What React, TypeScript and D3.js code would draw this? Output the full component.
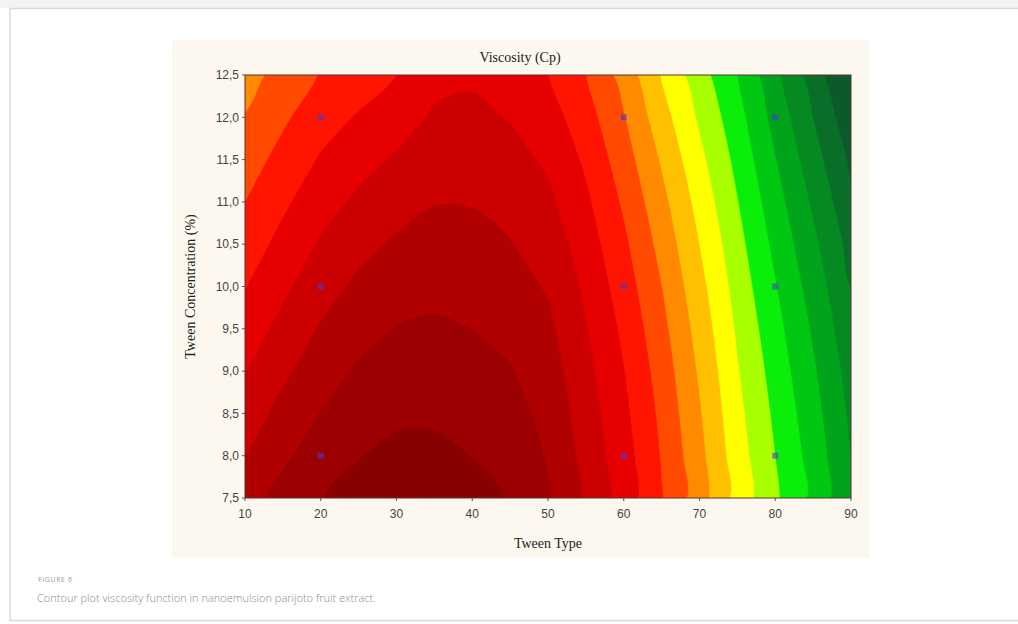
import React from "react";
import * as d3 from "d3";

// Grid nodes (Tween Type along x, Tween Concentration along y)
const tweenType = [10, 15, 20, 25, 30, 35, 40, 45, 50, 55, 60, 65, 70, 75, 80, 85, 90];
const tweenConc = [7.5, 8.0, 8.5, 9.0, 9.5, 10.0, 10.5, 11.0, 11.5, 12.0, 12.5];

// Surface values (contour-level units), one row per concentration
const row75 = [18.5, 19.35, 19.95, 20.35, 20.55, 20.55, 20.3, 19.95, 19.1, 17.8, 16.55, 15.05, 13.45, 11.6, 10.15, 8.75, 7.1];
const row80 = [17.97, 18.83, 19.5, 19.96, 20.21, 20.21, 19.98, 19.66, 18.92, 17.66, 16.41, 14.92, 13.28, 11.45, 9.99, 8.58, 6.97];
const row85 = [17.46, 18.32, 19.03, 19.56, 19.85, 19.86, 19.66, 19.37, 18.7, 17.5, 16.23, 14.76, 13.08, 11.27, 9.8, 8.37, 6.79];
const row90 = [16.95, 17.81, 18.56, 19.13, 19.46, 19.5, 19.33, 19.06, 18.46, 17.3, 16.02, 14.55, 12.85, 11.07, 9.58, 8.13, 6.57];
const row95 = [16.44, 17.3, 18.09, 18.67, 19.04, 19.13, 18.99, 18.73, 18.2, 17.06, 15.78, 14.29, 12.59, 10.85, 9.33, 7.86, 6.31];
const row100 = [15.95, 16.8, 17.6, 18.2, 18.6, 18.75, 18.65, 18.4, 17.9, 16.8, 15.5, 14.0, 12.3, 10.6, 9.05, 7.55, 6.0];
const row105 = [15.46, 16.3, 17.11, 17.7, 18.13, 18.36, 18.3, 18.05, 17.58, 16.5, 15.19, 13.66, 11.98, 10.33, 8.74, 7.21, 5.65];
const row110 = [14.99, 15.81, 16.6, 17.19, 17.64, 17.96, 17.95, 17.7, 17.22, 16.18, 14.84, 13.29, 11.63, 10.03, 8.4, 6.83, 5.25];
const row115 = [14.52, 15.32, 16.09, 16.65, 17.12, 17.55, 17.59, 17.33, 16.84, 15.82, 14.46, 12.87, 11.25, 9.71, 8.03, 6.42, 4.81];
const row120 = [14.05, 14.83, 15.58, 16.08, 16.57, 17.13, 17.22, 16.94, 16.44, 15.42, 14.05, 12.4, 10.84, 9.37, 7.63, 5.98, 4.33];
const row125 = [13.6, 14.35, 15.05, 15.5, 16.0, 16.7, 16.85, 16.55, 16.0, 15.0, 13.6, 11.9, 10.4, 9.0, 7.2, 5.5, 3.8];
const viscosityRows = [row75, row80, row85, row90, row95, row100, row105, row110, row115, row120, row125];

// Contour levels and their fill colours (base colour = below first level)
const contourLevels = [5, 6, 7, 8, 9, 10, 11, 12, 13, 14, 15, 16, 17, 18, 19, 20];
const baseColor = "#0c5a2c";
const levelColors = [
  "#0a6e28", "#058a22", "#00a41a", "#00c812", "#0aee0a", "#a8ff00", "#ffff00", "#ffc000",
  "#ff8a00", "#ff4a00", "#ff1400", "#e60000", "#cc0000", "#b00000", "#9c0000", "#880000",
];

// Experimental design points
const designType = [20, 20, 20, 60, 60, 60, 80, 80, 80];
const designConc = [8, 10, 12, 8, 10, 12, 8, 10, 12];

const xTicks = [10, 20, 30, 40, 50, 60, 70, 80, 90];
const yTicks = [7.5, 8.0, 8.5, 9.0, 9.5, 10.0, 10.5, 11.0, 11.5, 12.0, 12.5];

const W = 1018;
const H = 624;
const PL = 245, PR = 851, PT = 75, PB = 498;

export default function App() {
  const x = d3.scaleLinear().domain([10, 90]).range([PL, PR]);
  const y = d3.scaleLinear().domain([7.5, 12.5]).range([PB, PT]);

  const nx = tweenType.length;
  const ny = tweenConc.length;
  // grid coordinate (sample i at i + 0.5) -> data value
  const gx = d3.scaleLinear().domain([0.5, nx - 0.5]).range([tweenType[0], tweenType[nx - 1]]);
  const gy = d3.scaleLinear().domain([0.5, ny - 0.5]).range([tweenConc[0], tweenConc[ny - 1]]);

  const values: number[] = [];
  viscosityRows.forEach((r) => r.forEach((v) => values.push(v)));

  const contours = d3.contours().size([nx, ny]).thresholds(contourLevels)(values);
  const ringLine = d3
    .line<[number, number]>()
    .x((p) => x(gx(p[0])))
    .y((p) => y(gy(p[1])))
    .curve(d3.curveCatmullRomClosed.alpha(0.5));

  const contourPath = (c: any) =>
    c.coordinates
      .map((poly: [number, number][][]) => poly.map((ring) => ringLine(ring.slice(0, -1)) || "").join(""))
      .join("");

  const fmt = (v: number) => v.toFixed(1).replace(".", ",");

  return (
    <div style={{ position: "absolute", left: 0, top: 0, width: W, height: H, background: "#fff" }}>
      <svg width={W} height={H} style={{ display: "block" }}>
        <defs>
          <clipPath id="plotClip">
            <rect x={PL} y={PT} width={PR - PL} height={PB - PT} />
          </clipPath>
        </defs>
        <rect x={0} y={0} width={W} height={8} fill="#f3f3f3" />
        <rect x={10} y={8.5} width={W} height={612} fill="#fff" stroke="#d9d9d9" strokeWidth={1.5} />
        {/* beige panel */}
        <rect x={172} y={40} width={697} height={518} fill="#fdf8ef" />
        <g clipPath="url(#plotClip)">
          <rect x={PL} y={PT} width={PR - PL} height={PB - PT} fill={baseColor} />
          {contours.map((c, i) => (
            <path key={i} d={contourPath(c)} fill={levelColors[i]} fillRule="evenodd" stroke={levelColors[i]} strokeWidth={0.6} />
          ))}
        </g>
        <rect x={PL} y={PT} width={PR - PL} height={PB - PT} fill="none" stroke="#5a3030" strokeWidth={1} />
        {designType.map((t, i) => (
          <rect key={i} x={x(t) - 3} y={y(designConc[i]) - 3} width={6} height={6} fill="#4a3ad0" fillOpacity={0.6} />
        ))}
        {/* y ticks */}
        {yTicks.map((v) => (
          <g key={"y" + v}>
            <line x1={PL - 3} x2={PL} y1={y(v)} y2={y(v)} stroke="#555" strokeWidth={1} />
            <text x={PL - 6} y={y(v)} dy="0.35em" textAnchor="end" fontFamily="'Liberation Sans', Arial, sans-serif" fontSize={12} fill="#444">
              {fmt(v)}
            </text>
          </g>
        ))}
        {xTicks.map((v) => (
          <g key={"x" + v}>
            <line x1={x(v)} x2={x(v)} y1={PB} y2={PB + 3} stroke="#555" strokeWidth={1} />
            <text x={x(v)} y={PB + 20} textAnchor="middle" fontFamily="'Liberation Sans', Arial, sans-serif" fontSize={12} fill="#444">
              {v}
            </text>
          </g>
        ))}
        <text x={(PL + PR) / 2 - 28} y={62} textAnchor="middle" fontFamily="'Liberation Serif', 'Times New Roman', serif" fontSize={14} fill="#222">
          Viscosity (Cp)
        </text>
        <text x={(PL + PR) / 2} y={548} textAnchor="middle" fontFamily="'Liberation Serif', 'Times New Roman', serif" fontSize={14} fill="#222">
          Tween Type
        </text>
        <text transform={`translate(195,${(PT + PB) / 2}) rotate(-90)`} textAnchor="middle" fontFamily="'Liberation Serif', 'Times New Roman', serif" fontSize={14} fill="#222">
          Tween Concentration (%)
        </text>
        <text x={38} y={582} fontFamily="'Open Sans', sans-serif" fontSize={7} letterSpacing={0.6} fill="#999">
          FIGURE 6
        </text>
        <text x={37} y={602} fontFamily="'Open Sans', sans-serif" fontWeight={300} fontSize={11} fill="#8a8a8a">
          Contour plot viscosity function in nanoemulsion parijoto fruit extract.
        </text>
      </svg>
    </div>
  );
}
